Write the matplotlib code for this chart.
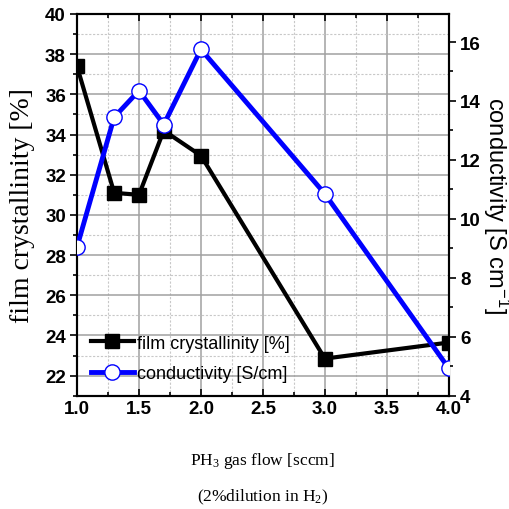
import matplotlib
matplotlib.use("Agg")
import matplotlib.pyplot as plt
from matplotlib.ticker import MultipleLocator

# data
flow = [1.0, 1.3, 1.5, 1.7, 2.0, 3.0, 4.0]
crystallinity = [37.4, 31.1, 31.0, 34.2, 32.95, 22.85, 23.65]
conductivity = [9.05, 13.45, 14.35, 13.2, 15.75, 10.85, 4.93]

plt.rcParams['font.family'] = ['Liberation Sans', 'DejaVu Sans']
plt.rcParams['font.weight'] = 'bold'
plt.rcParams['font.size'] = 13.5
plt.rcParams['mathtext.default'] = 'regular'
serif = ['Liberation Serif', 'DejaVu Serif']

fig = plt.figure(figsize=(5.1, 5.1), dpi=100)
ax = fig.add_axes([0.151, 0.222, 0.729, 0.7486])
ax2 = ax.twinx()

l1, = ax.plot(flow, crystallinity, color='black', lw=3, marker='s', ms=10,
              mfc='black', mec='black', label='film crystallinity [%]', zorder=3)
l2, = ax2.plot(flow, conductivity, color='blue', lw=3.5, marker='o', ms=11,
               mfc='white', mec='blue', mew=1, zorder=3,
               label='conductivity [S/cm]')

ax.set_xlim(1.0, 4.0)
ax.set_ylim(21, 40)
ax.xaxis.set_major_locator(MultipleLocator(0.5))
ax.xaxis.set_minor_locator(MultipleLocator(0.25))
ax.yaxis.set_major_locator(MultipleLocator(2))
ax.yaxis.set_minor_locator(MultipleLocator(1))
ax.set_yticks(range(22, 41, 2))
ax.grid(which='major', color='#a0a0a0', lw=1.1, ls='-')
ax.grid(which='minor', color='#c8c8c8', lw=0.8, ls=(0, (2, 1.5)))
ax.set_axisbelow(True)
ax.tick_params(axis='x', which='both', direction='in', top=True, width=1.2)
ax.tick_params(axis='y', which='both', direction='out', width=1.2)
ax.tick_params(which='major', length=5, pad=3)
ax.tick_params(which='minor', length=3)
for s in ax.spines.values():
    s.set_linewidth(1.5)

ax.set_ylabel('film crystallinity [%]', family=serif, weight='normal',
              fontsize=20, labelpad=7)
ax.set_xlabel('PH$_3$ gas flow [sccm]\n(2%dilution in H$_2$)', family=serif,
              weight='normal', fontsize=12.5, labelpad=24, linespacing=2.2)

ax2.set_ylim(4, 16.95)
ax2.yaxis.set_major_locator(MultipleLocator(2))
ax2.yaxis.set_minor_locator(MultipleLocator(1))
ax2.tick_params(which='both', direction='out', width=1.2)
ax2.tick_params(which='major', length=5, pad=3)
ax2.tick_params(which='minor', length=3)
ax2.set_ylabel('conductivity [S cm$^{-1}$]', weight='normal', fontsize=17,
               rotation=270, labelpad=22)
for s in ax2.spines.values():
    s.set_linewidth(1.5)

ax2.legend(handles=[l1, l2], loc='lower left', frameon=False, handlelength=2.4,
           handletextpad=0.2, borderaxespad=0.35, labelspacing=0.75,
           prop={'weight': 'normal', 'size': 13})

fig.savefig('out.png', dpi=100)
